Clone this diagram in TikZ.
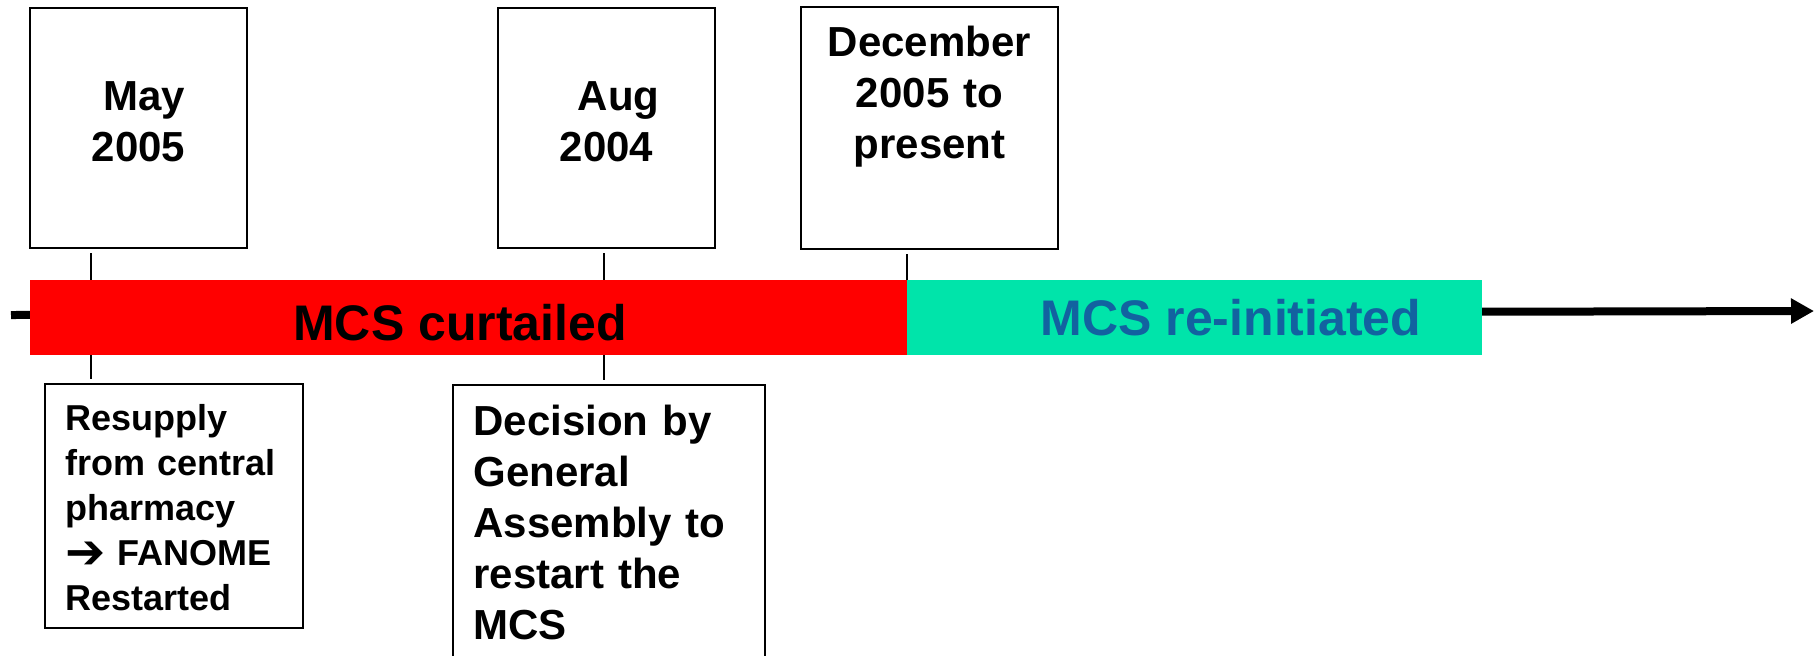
\documentclass[tikz,border=0pt]{standalone}
\usepackage{fontspec}
\setmainfont{Liberation Sans}
\newfontfamily\arrowfont{DejaVu Sans}
\usetikzlibrary{arrows.meta}
\definecolor{mcsgreen}{RGB}{0,228,170}
\definecolor{mcsblue}{RGB}{18,98,160}
\tikzset{
  datebox/.style={draw,line width=1pt,minimum width=108.5pt,minimum height=120pt,inner sep=0},
  datetext/.style={anchor=base,text width=120pt,align=center,inner sep=0,font=\fontsize{21pt}{25.5pt}\selectfont\bfseries},
  eventbox/.style={draw,line width=1pt,inner sep=0},
  eventtext/.style={anchor=base west,align=left,inner sep=0},
  bar/.style={inner sep=0,minimum height=37.5pt},
  bartext/.style={anchor=base,inner sep=0,font=\fontsize{25pt}{30pt}\selectfont\bfseries},
  tick/.style={line width=1pt}
}

\begin{document}
\begin{tikzpicture}[x=0.5pt,y=-0.5pt]
  \clip (0,0) rectangle (1816,655);
  \coordinate (tstart) at (11,315);
  \coordinate (tend) at (1814,311);
  \coordinate (mayx) at (91,0);
  \coordinate (augx) at (604,0);
  \draw[line width=4pt,-{Triangle[length=11.5pt,width=12pt]}] (tstart) -- (tend);
  \node[bar,fill=red,minimum width=438.5pt] (curtailed) at (468.5,317.5) {};
  \node[bar,fill=mcsgreen,minimum width=287.5pt] (reinit) at (1194.5,317.5) {};
  \node[bartext] (curtailedtext) at (460,340) {MCS curtailed};
  \node[bartext,text=mcsblue] (reinittext) at (1231,335) {MCS re-initiated};

  \node[datebox] (may) at (138.5,128) {};
  \node[datebox] (aug) at (606.5,128) {};
  \node[datebox,minimum width=128.5pt,minimum height=121pt] (dec) at (929.5,128) {};
  \node[datetext] (maytext) at (138.5,110) {\hspace*{6pt}May\\2005};
  \node[datetext] (augtext) at (606.5,110) {\hspace*{12pt}Aug\\2004};
  \node[datetext] (dectext) at (929.5,56) {December\\2005 to\\present};

  \node[eventbox,minimum width=129pt,minimum height=122pt] (resupply) at (174,506) {};
  \node[eventbox,minimum width=156pt,minimum height=157.5pt] (decision) at (609,542.5) {};
  \node[eventtext,text width=125pt,font=\fontsize{18pt}{22.5pt}\selectfont\bfseries] (resupplytext) at (65,430)
    {Resupply\\from central\\pharmacy\\\raisebox{-1.5pt}{\arrowfont\bfseries\fontsize{24pt}{22.5pt}\selectfont ➔} FANOME\\Restarted};
  \node[eventtext,text width=150pt,font=\fontsize{21pt}{25.5pt}\selectfont\bfseries] (decisiontext) at (473,435)
    {Decision by\\General\\Assembly to\\restart the\\MCS};

  \draw[tick,shorten <=2pt] (may.south -| mayx) -- (curtailed.north -| mayx);
  \draw[tick,shorten >=2pt] (curtailed.south -| mayx) -- (resupply.north -| mayx);
  \draw[tick,shorten <=2pt] (aug.south -| augx) -- (curtailed.north -| augx);
  \draw[tick,shorten >=2pt] (curtailed.south -| augx) -- (decision.north -| augx);
  \draw[tick,shorten <=2pt] (dec.south -| reinit.west) -- (reinit.north west);
\end{tikzpicture}
\end{document}
